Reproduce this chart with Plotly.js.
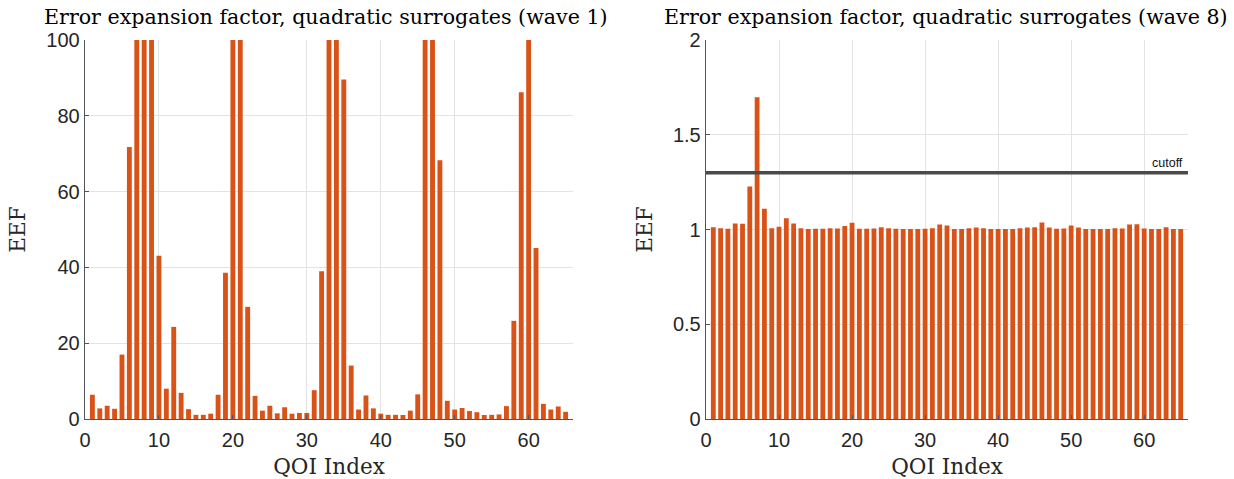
<!DOCTYPE html>
<html>
<head>
<meta charset="utf-8">
<script src="https://cdn.plot.ly/plotly-3.0.1.min.js"></script>
<style>html,body{margin:0;padding:0;background:#fff;} #chart{width:1234px;height:479px;}</style>
</head>
<body>
<div id="chart"></div>
<script>
// QOI indices
const qoiIndex = Array.from({length: 65}, (_, i) => i + 1);

// Wave 1 EEF (bars above 100 are clipped at the axis limit)
const eefWave1 = [
  6.4, 2.8, 3.5, 2.7, 17.0, 71.8, 100, 100, 100, 43.1,
  8.0, 24.3, 6.9, 2.6, 1.1, 1.1, 1.4, 6.4, 38.6, 100,
  100, 29.6, 6.1, 2.2, 3.5, 1.5, 3.1, 1.4, 1.6, 1.6,
  7.6, 39.0, 100, 100, 89.6, 14.1, 2.5, 6.2, 2.8, 1.4,
  1.1, 1.1, 1.05, 2.2, 6.5, 100, 100, 68.3, 4.8, 2.5,
  2.9, 2.1, 1.8, 1.05, 1.1, 1.2, 3.4, 25.9, 86.2, 100,
  45.1, 4.0, 2.5, 3.3, 1.9
];

// Wave 8 EEF
const eefWave8 = [
  1.012, 1.007, 1.004, 1.032, 1.030, 1.227, 1.698, 1.110, 1.007, 1.014,
  1.060, 1.032, 1.007, 1.002, 1.004, 1.004, 1.007, 1.005, 1.018, 1.035,
  1.004, 1.004, 1.005, 1.012, 1.007, 1.004, 1.002, 1.002, 1.002, 1.004,
  1.006, 1.026, 1.021, 1.002, 1.002, 1.007, 1.011, 1.007, 1.002, 1.002,
  1.002, 1.002, 1.007, 1.011, 1.012, 1.037, 1.011, 1.004, 1.005, 1.021,
  1.011, 1.002, 1.002, 1.002, 1.002, 1.007, 1.005, 1.026, 1.028, 1.005,
  1.002, 1.002, 1.012, 1.002, 1.002
];

const cutoffValue = 1.3;
const cutoffX = [0, 66];

const titles = [
  'Error expansion factor, quadratic surrogates (wave 1)',
  'Error expansion factor, quadratic surrogates (wave 8)'
];
const xLabel = 'QOI Index';
const yLabel = 'EEF';
const xTicks = [0, 10, 20, 30, 40, 50, 60];
const yTicks1 = [0, 20, 40, 60, 80, 100];
const yTicks2 = [0, 0.5, 1, 1.5, 2];

const barColor = '#D95319';
const serif = 'DejaVu Serif, serif';
const sans = 'Liberation Sans, Arial, sans-serif';
const axisColor = '#555555';
const textColor = '#262626';

const traces = [
  {type: 'bar', x: qoiIndex, y: eefWave1, xaxis: 'x', yaxis: 'y',
   marker: {color: barColor, line: {width: 0}}, hoverinfo: 'x+y'},
  {type: 'bar', x: qoiIndex, y: eefWave8, xaxis: 'x2', yaxis: 'y2',
   marker: {color: barColor, line: {width: 0}}, hoverinfo: 'x+y'},
  {type: 'scatter', mode: 'lines', x: cutoffX, y: [cutoffValue, cutoffValue],
   xaxis: 'x2', yaxis: 'y2', line: {color: '#4a4a4a', width: 3.5}, hoverinfo: 'skip'}
];

function xax(domain, anchor) {
  return {
    domain: domain, anchor: anchor, range: [0, 66], tickvals: xTicks,
    ticks: 'inside', ticklen: 4, tickcolor: axisColor, tickwidth: 1,
    showline: true, linecolor: axisColor, linewidth: 1.3,
    showgrid: true, gridcolor: '#e3e3e3', gridwidth: 1, zeroline: false,
    ticklabelstandoff: 3,
    tickfont: {family: sans, size: 20, color: textColor},
    title: {text: xLabel, font: {family: serif, size: 21.5, color: textColor}, standoff: 9},
    fixedrange: true
  };
}
function yax(domain, anchor, range, ticks) {
  return {
    domain: domain, anchor: anchor, range: range, tickvals: ticks,
    ticks: 'inside', ticklen: 4, tickcolor: axisColor, tickwidth: 1,
    showline: true, linecolor: axisColor, linewidth: 1.3,
    showgrid: true, gridcolor: '#e3e3e3', gridwidth: 1, zeroline: false,
    tickfont: {family: sans, size: 20, color: textColor},
    title: {text: yLabel, font: {family: serif, size: 21.5, color: textColor}, standoff: 14},
    fixedrange: true
  };
}

const layout = {
  width: 1234, height: 479,
  margin: {l: 0, r: 0, t: 0, b: 0},
  paper_bgcolor: '#ffffff', plot_bgcolor: '#ffffff',
  showlegend: false, bargap: 0.34,
  xaxis: xax([85/1234, 573/1234], 'y'),
  yaxis: yax([1 - 419/479, 1 - 40/479], 'x', [0, 100], yTicks1),
  xaxis2: xax([706/1234, 1188/1234], 'y2'),
  yaxis2: yax([1 - 419/479, 1 - 40/479], 'x2', [0, 2], yTicks2),
  annotations: [
    {text: titles[0], xref: 'paper', yref: 'paper', x: 326/1234, y: 1 - 17/479,
     xanchor: 'center', yanchor: 'middle', showarrow: false,
     font: {family: serif, size: 20.6, color: '#000'}},
    {text: titles[1], xref: 'paper', yref: 'paper', x: 946/1234, y: 1 - 17/479,
     xanchor: 'center', yanchor: 'middle', showarrow: false,
     font: {family: serif, size: 20.6, color: '#000'}},
    {text: 'cutoff', xref: 'x2', yref: 'y2', x: 65.6, y: cutoffValue,
     xanchor: 'right', yanchor: 'bottom', yshift: 1, showarrow: false,
     font: {family: sans, size: 12.5, color: '#111'}}
  ]
};

Plotly.newPlot('chart', traces, layout, {displayModeBar: false, staticPlot: true});
</script>
</body>
</html>
